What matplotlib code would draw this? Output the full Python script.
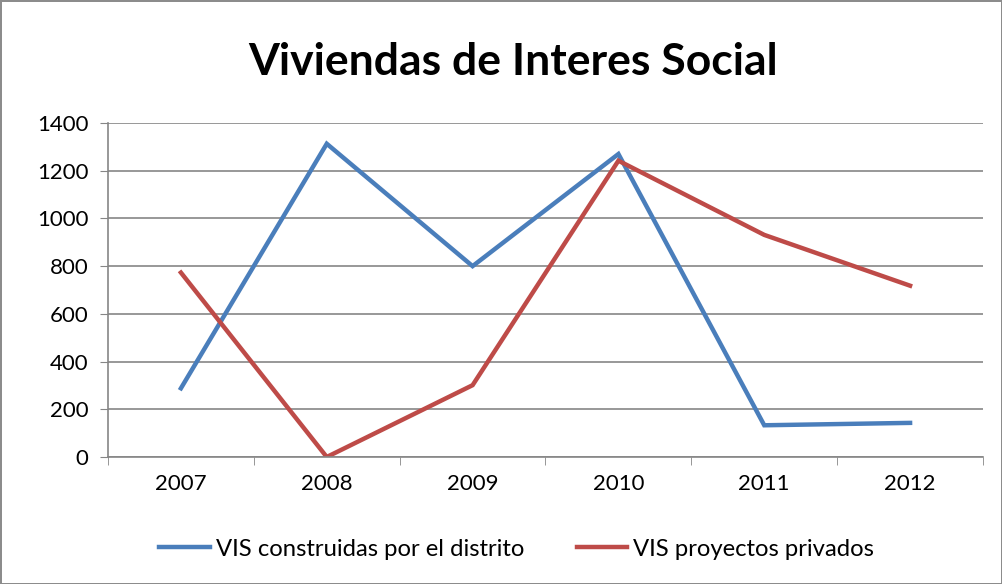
import numpy as np
import matplotlib.pyplot as plt

years = ['2007', '2008', '2009', '2010', '2011', '2012']
distrito = [288, 1313, 800, 1270, 133, 143]
privados = [773, 0, 301, 1242, 931, 718]

label1 = 'VIS construidas por el distrito'
label2 = 'VIS proyectos privados'

plt.rcParams['font.family'] = ['Lato', 'DejaVu Sans']

fig = plt.figure(figsize=(10.02, 5.84), dpi=100)
fig.patch.set_edgecolor('#8c8c8c')
fig.patch.set_linewidth(2)

# plot area in pixels: left 108, right 983, top 123, bottom 457
ax = fig.add_axes([108 / 1002, 1 - 457 / 584, 875 / 1002, 334 / 584])

index = np.arange(len(years))
ax.plot(index, distrito, color='#4a7ebb', lw=3.2, label=label1, solid_joinstyle='miter')
ax.plot(index, privados, color='#be4b48', lw=3.2, label=label2, solid_joinstyle='miter')

ax.set_xlim(-0.5, len(years) - 0.5)
ax.set_ylim(0, 1400)
ax.set_yticks(np.arange(0, 1401, 200))
ax.set_xticks(index)
ax.set_xticklabels(years)
ax.set_xticks(np.arange(-0.5, len(years), 1), minor=True)
ax.tick_params(axis='x', which='major', length=0, labelsize=16, pad=12, colors='black')
ax.tick_params(axis='x', which='minor', length=6, color='#868686')
ax.tick_params(axis='y', length=6, color='#868686', labelsize=16, pad=8)
ax.grid(axis='y', color='#868686', lw=1.2)
ax.set_axisbelow(True)
for s in ['top', 'right']:
    ax.spines[s].set_visible(False)
for s in ['left', 'bottom']:
    ax.spines[s].set_color('#868686')
    ax.spines[s].set_linewidth(1.2)

fig.text(0.512, 1 - 62 / 584, 'Viviendas de Interes Social', ha='center', va='center',
         fontsize=32, fontweight='bold')

fig.legend(loc='center', bbox_to_anchor=(0.5155, 1 - 549 / 584), ncol=2, frameon=False,
           fontsize=17.2, handlelength=2.1, handletextpad=0.25, columnspacing=2.2)

fig.savefig('out.png', dpi=100, edgecolor=fig.get_edgecolor())
